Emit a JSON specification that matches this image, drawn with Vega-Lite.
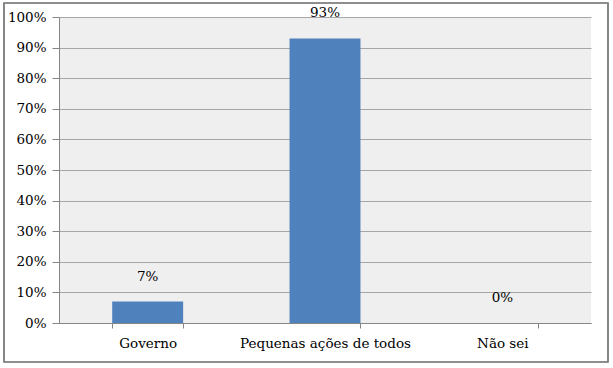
{
  "$schema": "https://vega.github.io/schema/vega-lite/v6.json",
  "width": 532,
  "height": 306,
  "autosize": {"type": "none"},
  "padding": {"left": 59, "top": 17, "right": 22, "bottom": 45},
  "background": "white",
  "data": {"values": [
    {"categoria": "Governo", "valor": 0.07},
    {"categoria": "Pequenas ações de todos", "valor": 0.93},
    {"categoria": "Não sei", "valor": 0.0}
  ]},
  "config": {
    "font": "DejaVu Serif",
    "view": {"fill": "#efefef", "stroke": null}
  },
  "encoding": {
    "x": {
      "field": "categoria", "type": "nominal", "sort": null,
      "scale": {"paddingInner": 0.6, "paddingOuter": 0.3},
      "axis": {
        "title": null, "labelAngle": 0, "labelFontSize": 13.5, "labelColor": "black",
        "labelFont": "DejaVu Serif",
        "labelPadding": 8, "tickBand": "extent", "tickSize": 5,
        "domainColor": "#868686", "tickColor": "#868686", "grid": false
      }
    },
    "y": {
      "field": "valor", "type": "quantitative",
      "scale": {"domain": [0, 1], "nice": false},
      "axis": {
        "title": null, "format": ".0%", "values": [0,0.1,0.2,0.3,0.4,0.5,0.6,0.7,0.8,0.9,1],
        "labelOverlap": false, "labelFont": "DejaVu Serif",
        "labelFontSize": 13.5, "labelColor": "black", "labelPadding": 6, "tickSize": 7,
        "domainColor": "#868686", "tickColor": "#868686",
        "gridColor": "#a6a6a6", "gridWidth": 1
      }
    }
  },
  "layer": [
    {
      "mark": {"type": "rect", "fill": null, "stroke": "#7f7f7f", "strokeWidth": 1.2},
      "encoding": {
        "x": {"value": -55},
        "x2": {"value": 549},
        "y": {"value": -14},
        "y2": {"value": 345}
      }
    },
    {
      "mark": {"type": "bar", "color": "#4f81bd"}
    },
    {
      "mark": {"type": "text", "dy": -25, "fontSize": 13.5, "color": "black", "baseline": "middle", "font": "DejaVu Serif"},
      "encoding": {
        "text": {"field": "valor", "type": "quantitative", "format": ".0%"}
      }
    }
  ]
}
